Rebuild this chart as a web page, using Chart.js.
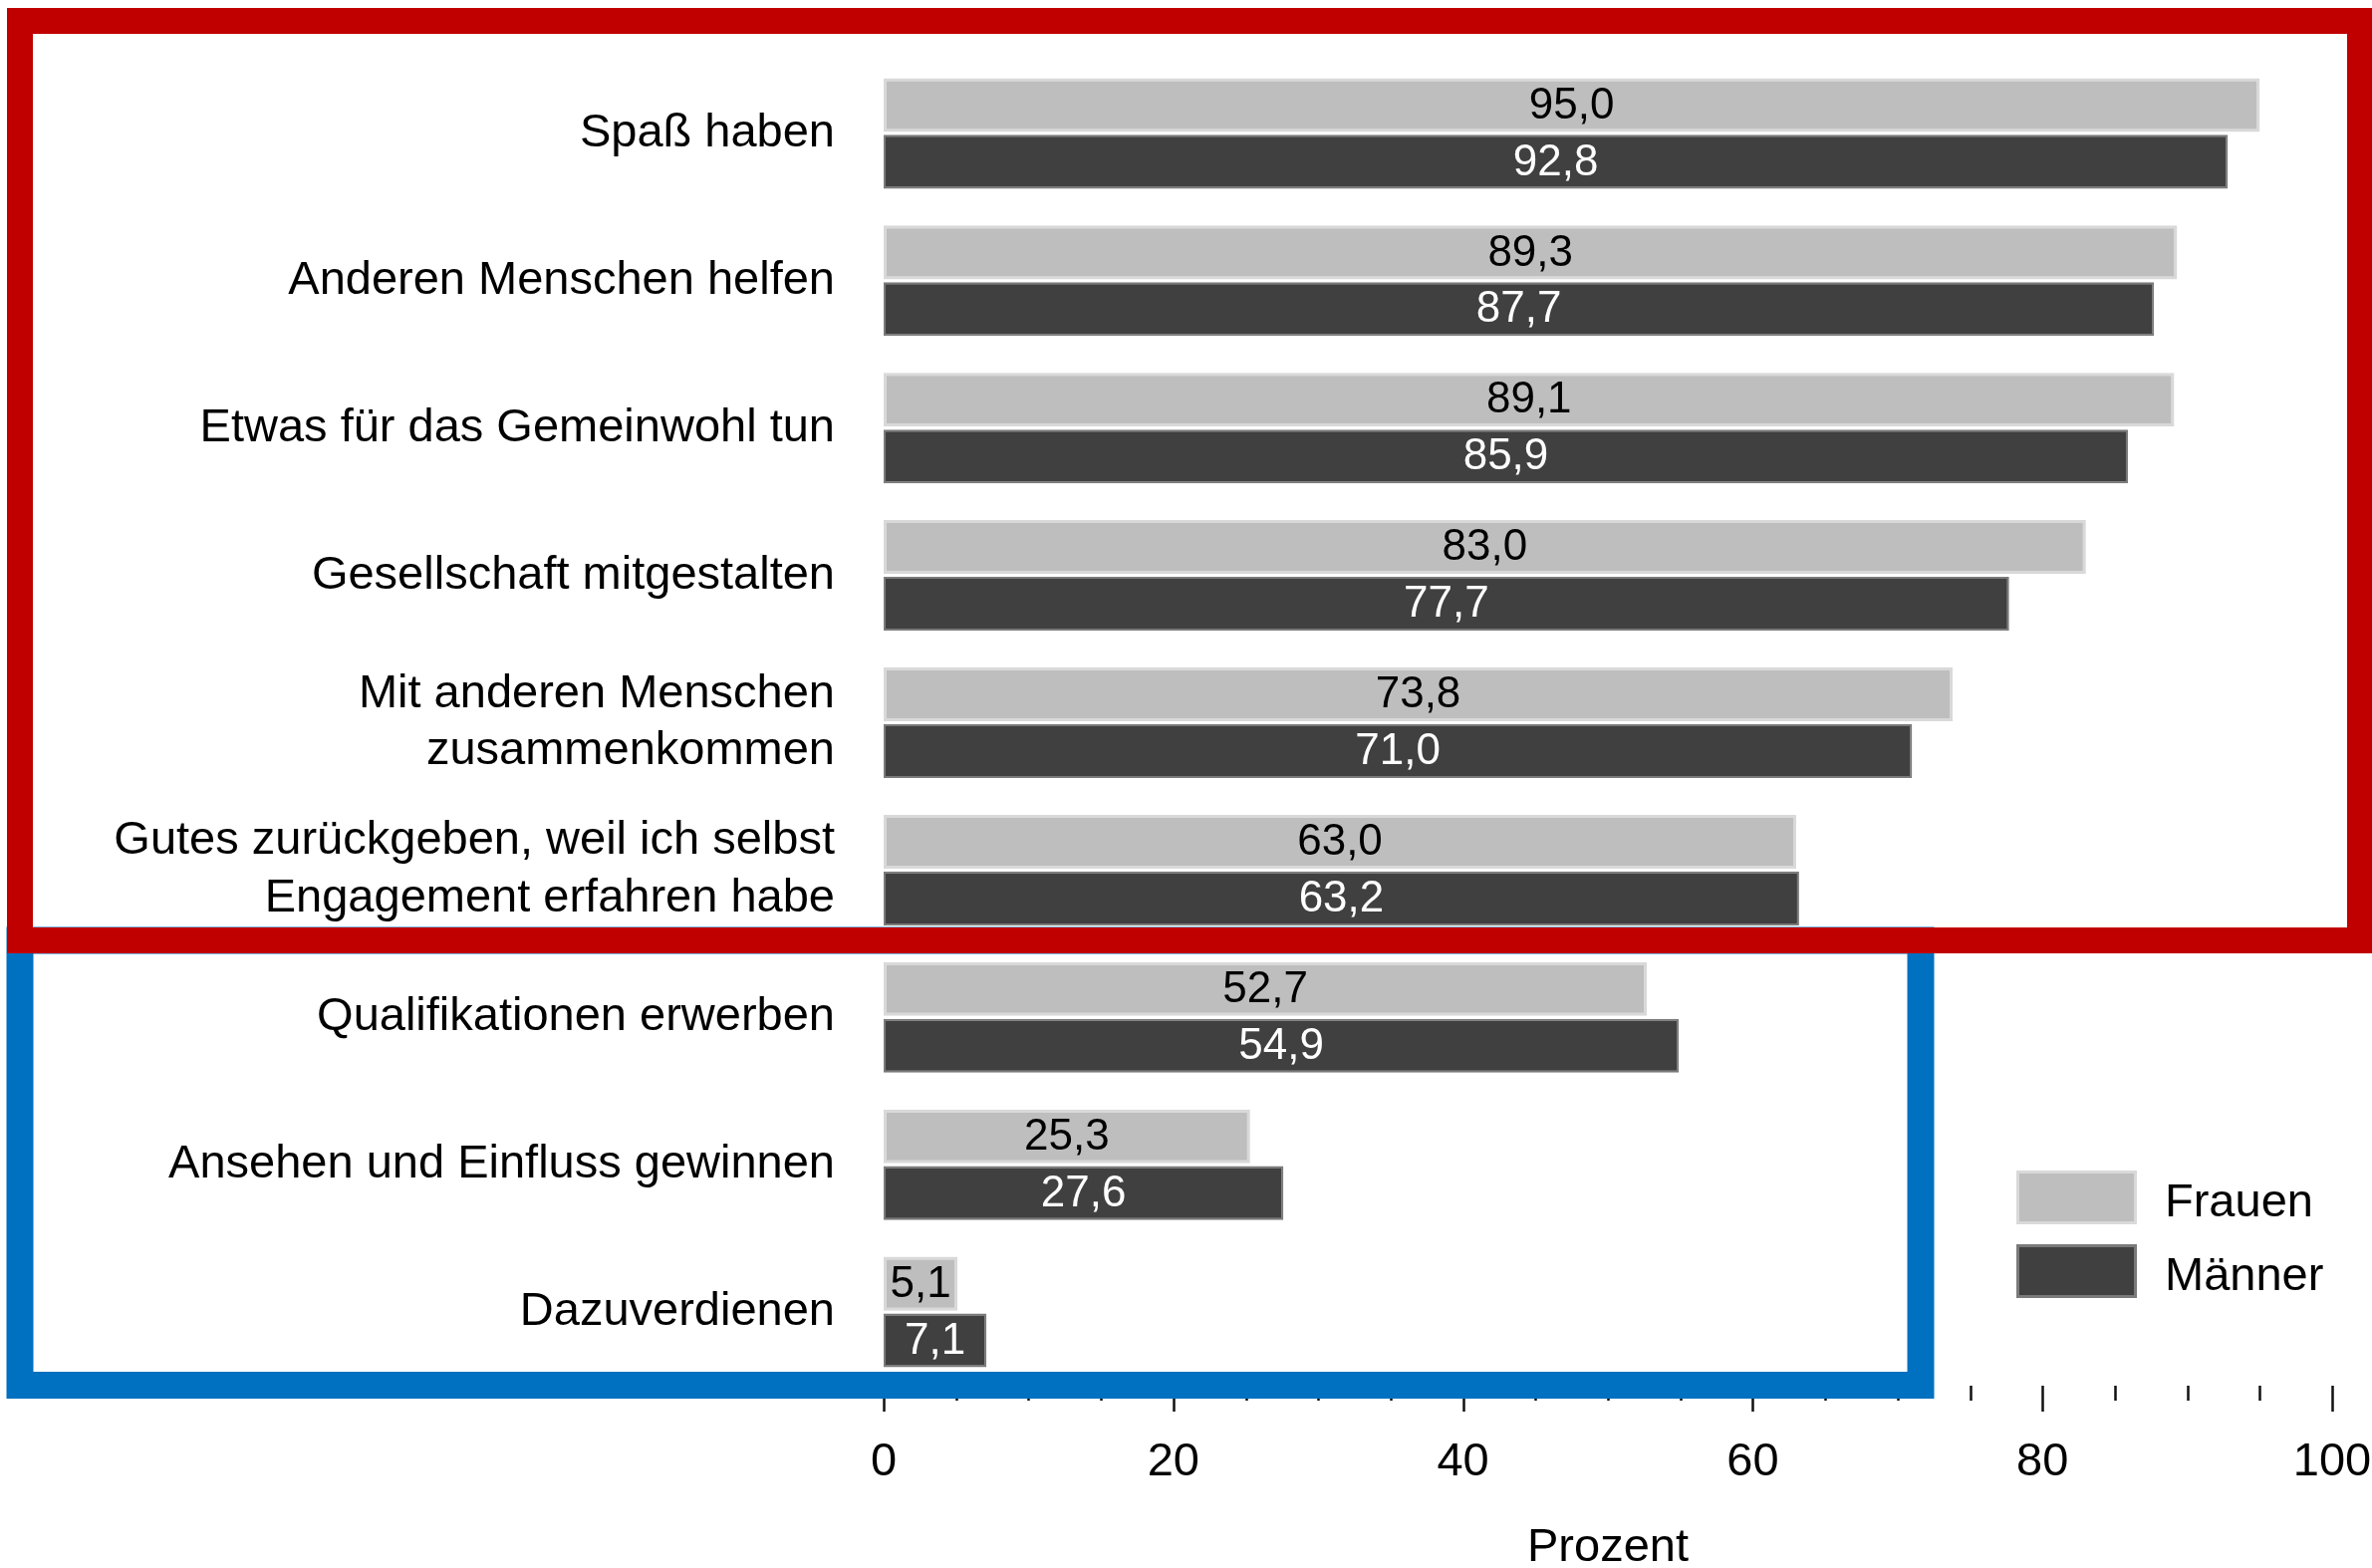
<!DOCTYPE html>
<html><head><meta charset="utf-8">
<script src="https://cdn.jsdelivr.net/npm/chart.js@4.4.0/dist/chart.umd.min.js"></script>
<style>
html,body{margin:0;padding:0;background:#fff;}
canvas{display:block;}
</style></head><body>
<canvas id="c" width="2381" height="1574"></canvas>
<script>
const categories = [
  'Spaß haben',
  'Anderen Menschen helfen',
  'Etwas für das Gemeinwohl tun',
  'Gesellschaft mitgestalten',
  ['Mit anderen Menschen', 'zusammenkommen'],
  ['Gutes zurückgeben, weil ich selbst', 'Engagement erfahren habe'],
  'Qualifikationen erwerben',
  'Ansehen und Einfluss gewinnen',
  'Dazuverdienen'
];
const frauen  = [95.0, 89.3, 89.1, 83.0, 73.8, 63.0, 52.7, 25.3, 5.1];
const maenner = [92.8, 87.7, 85.9, 77.7, 71.0, 63.2, 54.9, 27.6, 7.1];
const seriesNames = ['Frauen', 'Männer'];
const xTicks = [0, 20, 40, 60, 80, 100];
const minorStep = 5;
const axisTitle = 'Prozent';

const FONT = '"Liberation Sans", Arial, Helvetica, sans-serif';
const COL_F = '#bebebe', COL_M = '#404040';

const valueLabels = {
  id: 'valueLabels',
  afterDatasetsDraw(chart) {
    const ctx = chart.ctx;
    chart.data.datasets.forEach((ds, i) => {
      const meta = chart.getDatasetMeta(i);
      meta.data.forEach((bar, j) => {
        const v = ds.data[j];
        ctx.save();
        ctx.font = '44px ' + FONT;
        ctx.fillStyle = i === 0 ? '#000' : '#fff';
        ctx.textAlign = 'center';
        ctx.textBaseline = 'middle';
        ctx.fillText(v.toFixed(1).replace('.', ','), (bar.x + bar.base) / 2, bar.y + 1);
        ctx.restore();
      });
    });
  }
};

const decor = {
  id: 'decor',
  afterDraw(chart) {
    const ctx = chart.ctx;
    const xs = chart.scales.x;
    const y0 = chart.chartArea.bottom;
    ctx.save();
    // tick marks
    ctx.strokeStyle = '#111';
    ctx.lineWidth = 2.5;
    for (let v = xs.min; v <= xs.max + 1e-9; v += minorStep) {
      const px = Math.round(xs.getPixelForValue(v)) + 0.5;
      const major = xTicks.includes(v);
      ctx.beginPath();
      ctx.moveTo(px, y0);
      ctx.lineTo(px, y0 + (major ? 26 : 15));
      ctx.stroke();
    }
    // blue frame
    ctx.strokeStyle = '#0070C0';
    ctx.lineWidth = 27;
    ctx.strokeRect(20, 944, 1928 - 20, 1390.5 - 944);
    // red frame
    ctx.strokeStyle = '#C00000';
    ctx.lineWidth = 26;
    ctx.strokeRect(20, 21, 2369 - 20, 944 - 21);
    // legend
    const ys = [1175, 1249];
    chart.data.datasets.forEach((ds, i) => {
      ctx.fillStyle = ds.borderColor;
      ctx.fillRect(2024, ys[i], 121, 54);
      ctx.fillStyle = ds.backgroundColor;
      ctx.fillRect(2027, ys[i] + 3, 115, 48);
      ctx.fillStyle = '#000';
      ctx.font = '47px ' + FONT;
      ctx.textAlign = 'left';
      ctx.textBaseline = 'alphabetic';
      ctx.fillText(ds.label, 2173, ys[i] + 46);
    });
    ctx.restore();
  }
};

new Chart(document.getElementById('c'), {
  type: 'bar',
  data: {
    labels: categories,
    datasets: [
      { label: seriesNames[0], data: frauen, backgroundColor: COL_F, borderColor: '#d9d9d9', borderWidth: 3, borderSkipped: false, categoryPercentage: 0.77, barPercentage: 0.95 },
      { label: seriesNames[1], data: maenner, backgroundColor: COL_M, borderColor: '#7a7a7a', borderWidth: 2, borderSkipped: false, categoryPercentage: 0.77, barPercentage: 0.95 }
    ]
  },
  options: {
    indexAxis: 'y',
    responsive: false,
    animation: false,
    layout: { padding: { top: 60, right: 40, left: 0, bottom: 0 } },
    plugins: { legend: { display: false }, tooltip: { enabled: false } },
    scales: {
      x: {
        min: 0, max: 100,
        afterBuildTicks: s => { s.ticks = xTicks.map(v => ({ value: v })); },
        grid: { display: false, drawTicks: false },
        border: { display: false },
        ticks: { padding: 49, font: { family: FONT, size: 47 }, color: '#000', maxRotation: 0, autoSkip: false },
        title: { display: true, text: axisTitle, font: { family: FONT, size: 47, lineHeight: 0.85 }, color: '#000', padding: { top: 0, bottom: 0 } },
        afterFit: s => { s.height = 183; s.paddingLeft = 0; s.paddingRight = 0; }
      },
      y: {
        grid: { display: false, drawTicks: false },
        border: { display: false },
        ticks: { padding: 49, font: { family: FONT, size: 47, lineHeight: 1.23 }, color: '#000', autoSkip: false },
        afterFit: s => { s.width = 887; s.paddingTop = 0; s.paddingBottom = 0; }
      }
    }
  },
  plugins: [valueLabels, decor]
});
</script>
</body></html>
